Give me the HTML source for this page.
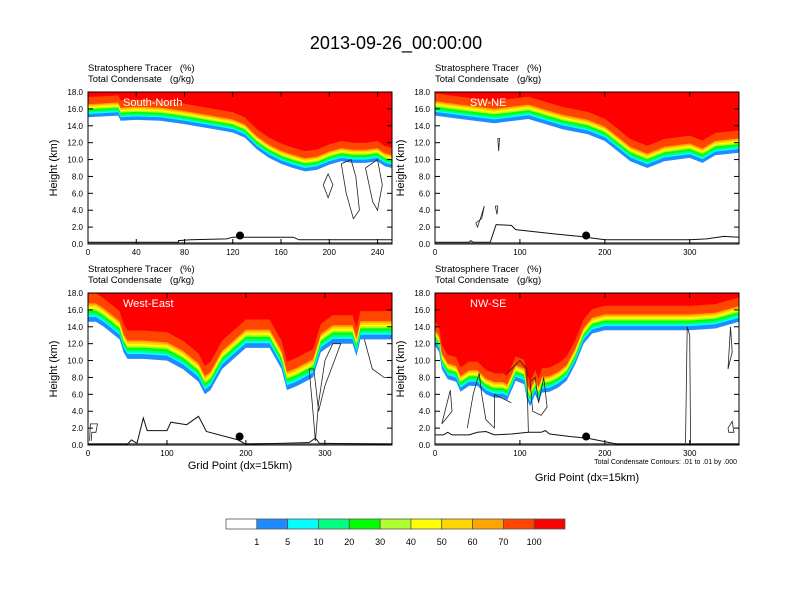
<!DOCTYPE html>
<html><head><meta charset="utf-8">
<style>
body{margin:0;background:#fff;}
svg{display:block;font-family:"Liberation Sans",sans-serif;}
</style></head>
<body>
<svg id="fig" width="792" height="612" viewBox="0 0 792 612">
<text x="396" y="49" font-size="18" text-anchor="middle">2013-09-26_00:00:00</text>
<g id="panels"></g>
<g id="cbar"></g>
</svg>
<script>
const NS="http://www.w3.org/2000/svg";
// ---- data ----
const levelLabels=["1","5","10","20","30","40","50","60","70","100"];
const levelColors=["#ffffff","#1e8cff","#00ffff","#00ff80","#00ff00","#adff2f","#ffff00","#ffd700","#ffa500","#ff4500","#ff0000"];
const yTicks=[0,2,4,6,8,10,12,14,16,18];
// panel 1 South-North
const p1Ticks=[0,40,80,120,160,200,240];
const p1Tropo=[[0,15.0],[25,15.2],[27,14.6],[40,14.7],[60,14.6],[80,14.2],[100,13.7],[120,13.2],[130,12.6],[140,11.2],[150,10.2],[160,9.5],[170,9.0],[180,8.6],[190,8.8],[200,9.4],[210,9.8],[220,9.6],[230,9.6],[240,9.8],[246,9.2],[252,9.0]];
const p1Terrain=[[0,0.2],[75,0.2],[75,0.4],[85,0.5],[115,0.6],[120,0.8],[170,0.8],[175,0.5],[252,0.5]];
const p1Contours=[[[195,7],[199,8.3],[203,7],[199,5.5],[195,7]],[[210,9.5],[214,6],[220,3],[225,4],[222,8],[218,10],[210,9.5]],[[230,9],[236,5],[240,4],[244,7],[240,10],[230,9]]];
const p1Dot=[126,1.0];
// panel 2 SW-NE
const p2Ticks=[0,100,200,300];
const p2Tropo=[[0,15.2],[30,14.8],[70,14.3],[110,14.8],[150,13.6],[180,13.0],[200,12.2],[215,11.0],[230,9.8],[250,9.0],[270,9.8],[300,10.2],[315,9.6],[330,10.5],[358,10.8]];
const p2Terrain=[[0,0.2],[40,0.2],[42,0.4],[45,0.2],[65,0.2],[72,2.3],[90,2.2],[95,1.7],[140,1.2],[170,0.9],[200,0.5],[300,0.5],[320,0.6],[340,0.9],[358,0.8]];
const p2Contours=[[[74,12.5],[75,11],[76,12.5],[74,12.5]],[[48,2.5],[55,3],[58,4.5],[55,3.5],[50,2],[48,2.5]],[[71,4.5],[73,3.5],[74,4.5],[71,4.5]]];
const p2Dot=[178,1.0];
// panel 3 West-East
const p3Ticks=[0,100,200,300];
const p3Tropo=[[0,14.6],[10,14.6],[20,14.0],[40,12.5],[45,11.0],[50,10.2],[70,10.2],[100,10.0],[120,9.0],[140,7.5],[148,6.0],[155,6.5],[170,9.0],[200,11.5],[230,11.5],[245,9.0],[252,6.5],[265,7.0],[275,7.5],[285,8.0],[295,11.0],[310,12.0],[335,12.0],[340,10.5],[345,12.5],[385,12.5]];
const p3Terrain=[[0,0.1],[50,0.1],[55,0.6],[62,0.2],[70,3.2],[75,1.7],[100,1.7],[105,2.7],[125,2.4],[140,3.4],[145,2.5],[150,1.6],[190,0.6],[200,0.1],[250,0.2],[280,0.3],[288,0.8],[293,0.2],[385,0.1]];
const p3Contours=[[[280,9],[284,5],[288,0.5],[292,5],[300,10],[310,12],[320,12],[312,10],[300,7],[292,4],[286,9],[280,9]],[[350,12.5],[360,9],[375,8],[385,8]],[[2,0.5],[3,2.5],[12,2.5],[10,1.5],[5,1.5],[4,0.5]]];
const p3Dot=[192,1.0];
// panel 4 NW-SE
const p4Ticks=[0,100,200,300];
const p4Tropo=[[0,11.8],[5,11.0],[8,9.0],[15,7.8],[25,7.5],[30,6.3],[40,7.0],[50,7.0],[60,6.0],[70,5.6],[80,5.6],[85,5.3],[95,7.6],[105,7.2],[108,5.5],[112,4.6],[118,6.0],[122,5.0],[126,6.2],[135,6.3],[145,6.8],[155,7.6],[165,9.5],[175,12.0],[185,13.2],[200,13.6],[300,13.6],[330,13.8],[358,14.6]];
const p4Terrain=[[0,1.2],[10,1.2],[15,1.5],[20,1.2],[40,1.2],[50,1.5],[60,1.6],[70,1.2],[90,1.3],[110,1.5],[125,1.5],[130,1.7],[135,1.3],[160,1.0],[180,0.8],[200,0.4],[215,0.1],[358,0.1]];
const p4Contours=[[[8,2.5],[18,6.5],[20,4],[12,3],[8,2.5]],[[38,2],[45,6],[52,8.5],[55,6],[60,3],[70,2],[70,6],[80,5.5],[90,5]],[[85,8.5],[100,10],[108,9],[110,1.5]],[[112,7.5],[118,8],[122,5],[128,8],[132,4.5],[125,3.5],[115,4],[112,7.5]],[[295,0.2],[297,14],[300,13],[301,0.2]],[[345,2],[350,2.8],[352,1.5],[346,1.5],[345,2]],[[345,9],[348,14],[350,11],[345,9]]];
const p4Dot=[178,1.0];
// ---- band offsets (km above tracer=1% surface) ----
const bandOff=[0,0.4,0.55,0.75,0.95,1.1,1.25,1.4,1.55,2.4];

const panels=[
 {name:"south-north",x0:88,y0:92,xmax:252,ticks:p1Ticks,tropo:p1Tropo,terr:p1Terrain,cont:p1Contours,dot:p1Dot,label:"South-North",s:1.0,xt:false},
 {name:"sw-ne",x0:435,y0:92,xmax:358,ticks:p2Ticks,tropo:p2Tropo,terr:p2Terrain,cont:p2Contours,dot:p2Dot,label:"SW-NE",s:1.1,xt:false},
 {name:"west-east",x0:88,y0:293,xmax:385,ticks:p3Ticks,tropo:p3Tropo,terr:p3Terrain,cont:p3Contours,dot:p3Dot,label:"West-East",s:1.4,xt:true},
 {name:"nw-se",x0:435,y0:293,xmax:358,ticks:p4Ticks,tropo:p4Tropo,terr:p4Terrain,cont:p4Contours,dot:p4Dot,label:"NW-SE",s:1.2,xt:true}
];
const W=304,H=152,YMAX=18;
const root=document.getElementById('panels');
function mk(tag,attrs,parent){const e=document.createElementNS(NS,tag);for(const k in attrs)e.setAttribute(k,attrs[k]);(parent||root).appendChild(e);return e;}

panels.forEach((p,pi)=>{
 const g=mk('g',{});
 
 
 const X=v=>p.x0+v/p.xmax*W, Y=v=>p.y0+H-Math.min(Math.max(v,0),YMAX)/YMAX*H;
 const cp=mk('clipPath',{id:'cp'+pi},g);mk('rect',{x:p.x0,y:p.y0,width:W,height:H},cp);
 const plot=mk('g',{'clip-path':'url(#cp'+pi+')'},g);
 for(let b=0;b<bandOff.length;b++){
  let d='M'+X(p.tropo[0][0])+','+Y(YMAX);
  p.tropo.forEach(t=>{d+=' L'+X(t[0]).toFixed(1)+','+Y(t[1]+bandOff[b]*p.s).toFixed(1);});
  d+=' L'+X(p.tropo[p.tropo.length-1][0])+','+Y(YMAX)+'Z';
  const band=mk('path',{d:d,fill:levelColors[b+1]},plot);
  
  
 }
 p.cont.forEach(c=>{
  const cl=mk('polyline',{points:c.map(q=>X(q[0]).toFixed(1)+','+Y(q[1]).toFixed(1)).join(' '),fill:'none',stroke:'#222','stroke-width':0.8},plot);
  
  
 });
 const gl=mk('line',{x1:p.x0,x2:p.x0+W,y1:Y(0.12),y2:Y(0.12),stroke:'#777','stroke-width':2},plot);
 
 
 const tl=mk('polyline',{points:p.terr.map(q=>X(q[0]).toFixed(1)+','+Y(q[1]).toFixed(1)).join(' '),fill:'none',stroke:'#111','stroke-width':1},plot);
 
 
 const dot=mk('circle',{cx:X(p.dot[0]),cy:Y(p.dot[1]),r:4,fill:'#000'},plot);
 
 
 const lab=mk('text',{x:p.x0+35,y:p.y0+14,'font-size':11,fill:'#fff'},g);lab.textContent=p.label;
 
 
 const fr=mk('rect',{x:p.x0,y:p.y0,width:W,height:H,fill:'none',stroke:'#000','stroke-width':1},g);
 
 
 yTicks.forEach(t=>{
  const y=Y(t);
  mk('line',{x1:p.x0,x2:p.x0+5,y1:y,y2:y,stroke:'#000'},g);
  mk('line',{x1:p.x0+W,x2:p.x0+W-5,y1:y,y2:y,stroke:'#000'},g);
  const tt=mk('text',{x:p.x0-5,y:y+3,'font-size':8,'text-anchor':'end'},g);tt.textContent=t.toFixed(1);
  
  
 });
 p.ticks.forEach(t=>{
  const x=X(t);
  mk('line',{x1:x,x2:x,y1:p.y0+H,y2:p.y0+H-5,stroke:'#000'},g);
  mk('line',{x1:x,x2:x,y1:p.y0,y2:p.y0+5,stroke:'#000'},g);
  const tt=mk('text',{x:x,y:p.y0+H+11,'font-size':8,'text-anchor':'middle'},g);tt.textContent=t;
  
  
 });
 const h1=mk('text',{x:p.x0,y:p.y0-21,'font-size':9.5},g);h1.textContent='Stratosphere Tracer\u00a0\u00a0\u00a0(%)';
 
 
 const h2=mk('text',{x:p.x0,y:p.y0-10,'font-size':9.5},g);h2.textContent='Total Condensate\u00a0\u00a0\u00a0(g/kg)';
 
 
 const yt=mk('text',{x:0,y:0,'font-size':11,'text-anchor':'middle',transform:'translate('+(p.x0-31)+','+(p.y0+H/2)+') rotate(-90)'},g);yt.textContent='Height (km)';
 
 
 if(p.xt){
  const xt=mk('text',{x:p.x0+W/2,y:pi==3?481:469,'font-size':11,'text-anchor':'middle'},g);xt.textContent='Grid Point (dx=15km)';
  
  
 }
});
const note=mk('text',{x:737,y:464,'font-size':7,'text-anchor':'end'});note.textContent='Total Condensate Contours: .01 to .01 by .000';



// colorbar
const cb=document.getElementById('cbar');
const cbx=226,cbw=339,cby=519,cbh=10,bw=cbw/levelColors.length;
levelColors.forEach((c,i)=>{
 const r=mk('rect',{x:cbx+i*bw,y:cby,width:bw,height:cbh,fill:c,stroke:'#555','stroke-width':0.8},cb);
 
 
});
levelLabels.forEach((l,i)=>{
 const t=mk('text',{x:cbx+(i+1)*bw,y:545,'font-size':9,'text-anchor':'middle'},cb);t.textContent=l;
 
 
});
</script>
</body></html>
